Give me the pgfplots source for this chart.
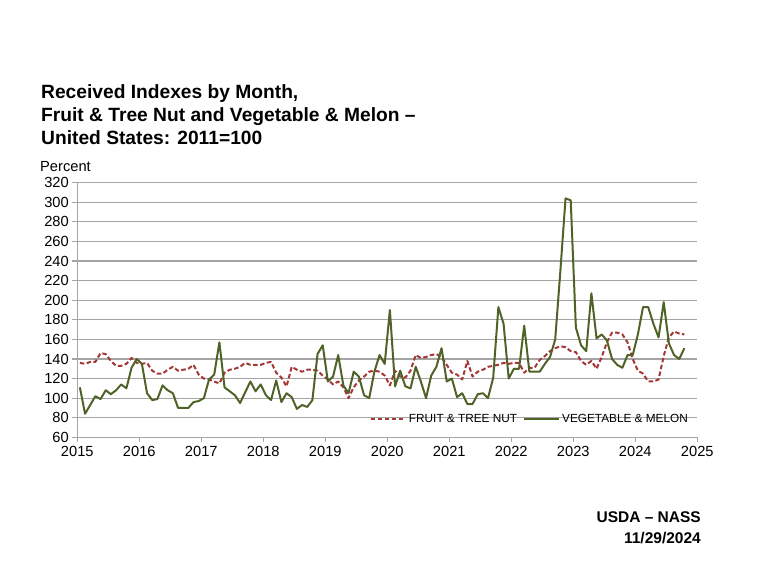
\documentclass[border=0pt]{standalone}
\usepackage{pgfplots}
\pgfplotsset{compat=1.18}
\usepackage{pgfplotstable}
\usepackage{fontspec}
\setmainfont{Liberation Sans}
\definecolor{fruit}{RGB}{165,55,55}
\definecolor{veg}{RGB}{79,98,40}
\definecolor{gridc}{RGB}{165,165,165}

\pgfplotstableread{
i fruit veg
0 136 111
1 135 84
2 137 93
3 137 102
4 146 99
5 145 108
6 138 104
7 133 108
8 133 114
9 135 110
10 141 131
11 136 140
12 135 135
13 136 105
14 128 98
15 125 99
16 125 113
17 129 108
18 132 105
19 128 90
20 129 90
21 130 90
22 134 96
23 124 97
24 120 100
25 119 119
26 117 124
27 115 157
28 126 111
29 129 107
30 130 103
31 132 95
32 136 106
33 134 117
34 134 107
35 134 114
36 136 103
37 137 98
38 126 118
39 121 96
40 112 105
41 132 101
42 129 89
43 127 93
44 129 91
45 129 98
46 128 145
47 123 154
48 119 117
49 114 122
50 117 144
51 111 113
52 100 105
53 111 127
54 118 122
55 122 103
56 127 100
57 128 127
58 127 144
59 123 135
60 113 190
61 128 112
62 122 128
63 121 112
64 128 110
65 144 132
66 141 117
67 142 100
68 144 123
69 145 132
70 142 151
71 134 117
72 126 120
73 124 101
74 119 105
75 138 94
76 122 94
77 127 104
78 129 105
79 132 100
80 133 121
81 134 193
82 136 176
83 135 120
84 136 130
85 136 130
86 126 174
87 131 127
88 131 127
89 139 127
90 143 135
91 148 142
92 151 160
93 153 230
94 152 304
95 148 302
96 147 172
97 138 154
98 134 148
99 138 207
100 130 161
101 142 165
102 157 159
103 167 140
104 167 134
105 165 131
106 157 144
107 140 144
108 128 165
109 125 193
110 117 193
111 117 176
112 119 162
113 143 198
114 162 156
115 168 144
116 166 140
117 165 151
}\data

\begin{document}
\begin{tikzpicture}
\path[use as bounding box] (0pt,0pt) rectangle (760pt,570pt);
\begin{axis}[
  at={(77.3pt,132.7pt)}, anchor=south west,
  width=620pt, height=254.6pt, scale only axis,
  xmin=2015, xmax=2025, ymin=60, ymax=320,
  xtick={2015,2016,...,2025}, ytick={60,80,...,320},
  axis x line*=bottom, axis y line*=left,
  ymajorgrids,
  grid style={gridc, line width=1.1pt},
  axis line style={gridc, line width=1.1pt},
  tick style={gridc, line width=1.1pt},
  tick align=outside, major tick length=5pt,
  /pgf/number format/assume math mode=true,
  /pgf/number format/1000 sep={},
  ticklabel style={font=\fontsize{14.67}{16}\selectfont, text=black},
  legend style={draw=none, fill=none, at={(0.73,0.072)}, anchor=center,
    legend columns=2, font=\fontsize{11.8}{13}\selectfont,
    /tikz/every even column/.append style={column sep=4pt}},
  legend image code/.code={\draw[#1] (0pt,0pt) -- (35pt,0pt);},
  clip=false,
]
\addplot[fruit, line width=2pt, dash pattern=on 4.5pt off 2.5pt, line join=round]
  table[x expr={2015+(\thisrow{i}+0.5)/12}, y=fruit] {\data};
\addlegendentry{FRUIT \& TREE NUT}
\addplot[veg, line width=2pt, line join=round]
  table[x expr={2015+(\thisrow{i}+0.5)/12}, y=veg] {\data};
\addlegendentry{VEGETABLE \& MELON}
\end{axis}
\begin{scope}[every node/.style={inner sep=0pt}]
\node[anchor=base west, font=\bfseries\fontsize{19.2}{22}\selectfont] at (41pt,471pt) {Received Indexes by Month,};
\node[anchor=base west, font=\bfseries\fontsize{19.2}{22}\selectfont] at (41pt,448pt) {Fruit \& Tree Nut and Vegetable \& Melon –};
\node[anchor=base west, font=\bfseries\fontsize{19.2}{22}\selectfont] at (41pt,425pt) {United States: 2011=100};
\node[anchor=base west, font=\fontsize{14.67}{16}\selectfont] at (40pt,398pt) {Percent};
\node[anchor=base east, font=\bfseries\fontsize{15.5}{17}\selectfont] at (701pt,47pt) {USDA – NASS};
\node[anchor=base east, font=\bfseries\fontsize{15.5}{17}\selectfont] at (701pt,27pt) {11/29/2024};
\end{scope}
\end{tikzpicture}
\end{document}
